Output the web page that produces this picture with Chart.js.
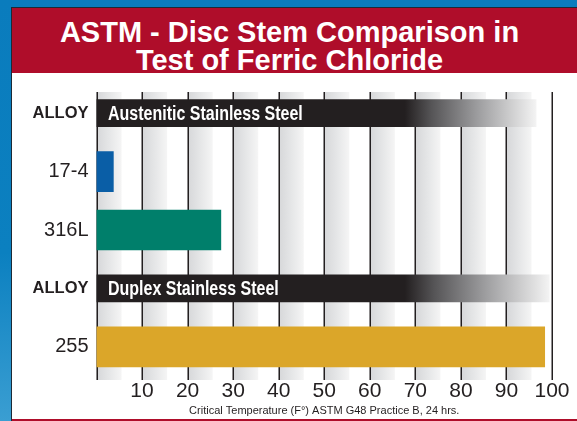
<!DOCTYPE html>
<html lang="en">
<head>
    <meta charset="UTF-8">
    <title>ASTM - Disc Stem Comparison in Test of Ferric Chloride</title>
    <script src="https://cdn.jsdelivr.net/npm/chart.js"></script>
    <style>
        body {
            margin: 0;
            width: 577px;
            height: 421px;
            overflow: hidden;
            position: relative;
            background: linear-gradient(#0a7cbd, #0b80c0 60%, #3a9ed2);
        }
        #frame {
            position: absolute;
            left: 11px;
            top: 7px;
            width: 566px;
            height: 414px;
            border-left: 1px solid #1c2a36;
            border-top: 1px solid #1c2a36;
            box-sizing: border-box;
            background: #fff;
        }
        #head {
            height: 65px;
            background: #af0d2a;
            color: #fff;
            font: bold 29px "Liberation Sans", Arial, sans-serif;
            line-height: 28px;
            text-align: center;
            padding: 10px 10px 0 0;
            box-sizing: border-box;
        }
        #chartBox {
            width: 565px;
            height: 346px;
        }
        #foot {
            height: 2px;
            background: #af0d2a;
        }
    </style>
</head>
<body>
    <div id="frame">
        <div id="head">ASTM - Disc Stem Comparison in<br>Test of Ferric Chloride</div>
        <div id="chartBox"><canvas id="disc" width="565" height="346"></canvas></div>
        <div id="foot"></div>
    </div>

    <script>
        // rows from top to bottom
        const rowLabels = ['ALLOY', '17-4', '316L', 'ALLOY', '255'];
        // section header bars (fade out towards the end)
        const sectionNames = ['Austenitic Stainless Steel', null, null, 'Duplex Stainless Steel', null];
        const sectionLengths = [96.5, null, null, 99.4, null];
        // critical temperature per alloy
        const tempValues = [null, 3.7, 27.3, null, 98.4];
        const barColors = [null, '#0a5ea6', '#007f6b', null, '#dba629'];
        const xTickLabels = ['', '10', '20', '30', '40', '50', '60', '70', '80', '90', '100'];
        const axisTitle = 'Critical Temperature (F°) ASTM G48 Practice B, 24 hrs.';

        const SANS = '"Liberation Sans", Arial, sans-serif';
        const INK = '#231f20';
        const fadeStart = 67.7;

        // grey stripes + dark lines behind the bars, section names on top
        const stripes = {
            id: 'stripes',
            beforeDatasetsDraw(chart) {
                const ctx = chart.ctx;
                const xs = chart.scales.x;
                const a = chart.chartArea;
                const top = a.top + 8, bottom = a.bottom + 4;
                ctx.save();
                for (let v = 0; v < 100; v += 10) {
                    const x = xs.getPixelForValue(v);
                    const w = (xs.getPixelForValue(v + 10) - x) * 0.55;
                    const g = ctx.createLinearGradient(x, 0, x + w, 0);
                    g.addColorStop(0, '#d6d7d9');
                    g.addColorStop(0.5, '#e5e6e7');
                    g.addColorStop(1, '#f5f5f5');
                    ctx.fillStyle = g;
                    ctx.fillRect(x, top, w, bottom - top);
                }
                ctx.strokeStyle = INK;
                ctx.lineWidth = 1.5;
                for (let v = 0; v <= 100; v += 10) {
                    const x = Math.round(xs.getPixelForValue(v)) + 0.25;
                    ctx.beginPath();
                    ctx.moveTo(x, top);
                    ctx.lineTo(x, bottom);
                    ctx.stroke();
                }
                ctx.restore();
            },
            afterDatasetsDraw(chart) {
                const ctx = chart.ctx;
                const meta = chart.getDatasetMeta(0);
                ctx.save();
                ctx.fillStyle = '#fff';
                ctx.font = 'bold 20px ' + SANS;
                ctx.textBaseline = 'middle';
                meta.data.forEach((el, i) => {
                    if (!sectionNames[i]) return;
                    ctx.save();
                    ctx.translate(chart.chartArea.left + 11.5, el.y + 1);
                    ctx.scale(0.8, 1); // condensed look
                    ctx.fillText(sectionNames[i], 0, 0);
                    ctx.restore();
                });
                ctx.restore();
            }
        };

        function headerFill(c) {
            const ch = c.chart;
            if (!ch.chartArea || c.raw == null) return INK;
            const xs = ch.scales.x;
            const x0 = xs.getPixelForValue(0);
            const x1 = xs.getPixelForValue(c.raw);
            const f = fadeStart / c.raw;
            const g = ch.ctx.createLinearGradient(x0, 0, x1, 0);
            g.addColorStop(0, INK);
            g.addColorStop(f, INK);
            g.addColorStop(f + (1 - f) * 0.2, '#555456');
            g.addColorStop(f + (1 - f) * 0.55, '#9c9c9e');
            g.addColorStop(1, '#f3f3f3');
            return g;
        }

        const ctx = document.getElementById('disc').getContext('2d');
        new Chart(ctx, {
            type: 'bar',
            data: {
                labels: rowLabels,
                datasets: [{
                    data: sectionLengths,
                    backgroundColor: headerFill,
                    barThickness: 27,
                    grouped: false,
                    borderWidth: 0
                }, {
                    data: tempValues,
                    backgroundColor: barColors,
                    barThickness: 40,
                    grouped: false,
                    borderWidth: 0
                }]
            },
            options: {
                indexAxis: 'y',
                responsive: false,
                animation: false,
                layout: { padding: { top: 11, right: 25, left: 0, bottom: 0 } },
                plugins: {
                    legend: { display: false },
                    tooltip: { enabled: false }
                },
                scales: {
                    x: {
                        min: 0,
                        max: 100,
                        grid: { display: false, drawTicks: false },
                        border: { display: false },
                        ticks: {
                            stepSize: 10,
                            autoSkip: false,
                            maxRotation: 0,
                            padding: 3,
                            color: INK,
                            font: { family: SANS, size: 21 },
                            callback: (v, i) => xTickLabels[i]
                        },
                        title: {
                            display: true,
                            text: axisTitle,
                            color: INK,
                            font: { family: SANS, size: 11 },
                            padding: { top: 0, bottom: 1 }
                        },
                        afterFit: s => { s.height = 43; }
                    },
                    y: {
                        grid: { display: false, drawTicks: false },
                        border: { display: false },
                        ticks: {
                            padding: 8,
                            color: INK,
                            font: c => rowLabels[c.index] === 'ALLOY'
                                ? { family: SANS, size: 16.5, weight: 'bold' }
                                : { family: SANS, size: 20 }
                        },
                        afterFit: s => {
                            s.width = 84.5;
                            s.paddingTop = 0;
                            s.paddingBottom = 0;
                        }
                    }
                }
            },
            plugins: [stripes]
        });
    </script>
</body>
</html>
